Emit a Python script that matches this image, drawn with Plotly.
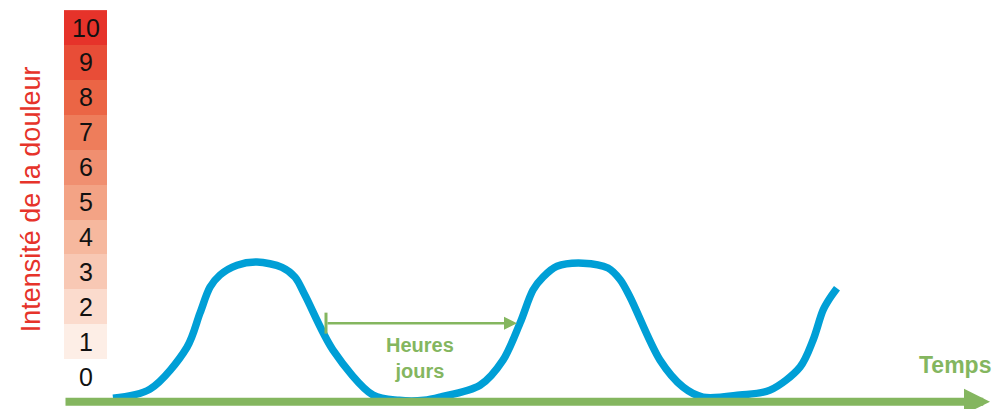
import plotly.graph_objects as go

# Pain scale
levels = [0, 1, 2, 3, 4, 5, 6, 7, 8, 9, 10]
level_labels = ["0", "1", "2", "3", "4", "5", "6", "7", "8", "9", "10"]
level_colors = ["#FFFFFF", "#FDEEE6", "#FBDBCD", "#F8C8B4", "#F6B89E", "#F3A385",
                "#F08F70", "#EE7D5B", "#EB6545", "#E84D37", "#E6332A"]

# Pain curve over time (arbitrary time units)
time = [4.9, 8.6, 12.3, 13.6, 14.6, 15.6, 17.3, 19.3, 21.8, 23.1, 24.1, 26.9, 30.9,
        33.5, 36.0,
        37.6, 41.6, 43.9, 45.6, 46.9, 47.9, 49.3, 51.9, 54.4, 55.6, 56.6, 59.6, 61.9, 63.9,
        67.6, 70.6, 73.6, 74.9, 75.9, 76.6, 77.3]
intensity = [-0.62, -0.36, 0.84, 1.82, 2.56, 2.91, 3.19, 3.28, 3.13, 2.85, 2.33, 0.76, -0.53,
             -0.68, -0.68,
             -0.59, -0.25, 0.47, 1.53, 2.48, 2.85, 3.16, 3.25, 3.11, 2.78, 2.28, 0.47, -0.30, -0.59,
             -0.53, -0.39, 0.27, 1.04, 1.90, 2.25, 2.53]

# Interval bracket ("Heures / jours")
interval_start = 26.2
interval_end = 45.3
interval_level = 1.53

# Time axis
time_axis_start = 0.0
time_axis_end = 92.6
time_axis_level = -0.72

GREEN = "#84B65F"
BLUE = "#009FD6"
RED = "#E6332A"
FONT = "Liberation Sans, Arial, Helvetica, sans-serif"

fig = go.Figure()

colorscale = [[lv / 10, c] for lv, c in zip(levels, level_colors)]
fig.add_trace(go.Heatmap(
    x=[0.0, 4.3],
    y=[lv - 0.5 for lv in levels] + [levels[-1] + 0.5],
    z=[[lv] for lv in levels],
    text=[[t] for t in level_labels],
    texttemplate="%{text}",
    textfont=dict(family=FONT, size=25, color="#111111"),
    colorscale=colorscale, zmin=0, zmax=10,
    showscale=False, hoverinfo="skip",
))

fig.add_trace(go.Scatter(
    x=time, y=intensity, mode="lines",
    line=dict(color=BLUE, width=7.5, shape="spline", smoothing=0.9),
    hoverinfo="skip", showlegend=False,
))

# start tick of the bracket
fig.add_trace(go.Scatter(
    x=[interval_start], y=[interval_level], mode="markers",
    marker=dict(symbol="line-ns-open", size=15, color=GREEN, line=dict(color=GREEN, width=3)),
    hoverinfo="skip", showlegend=False,
))

annotations = [
    dict(x=time_axis_end, y=time_axis_level, ax=time_axis_start, ay=time_axis_level,
         xref="x", yref="y", axref="x", ayref="y", text="", showarrow=True,
         arrowhead=2, arrowsize=0.65, arrowwidth=8, arrowcolor=GREEN),
    dict(x=interval_end, y=interval_level, ax=interval_start, ay=interval_level,
         xref="x", yref="y", axref="x", ayref="y", text="", showarrow=True,
         arrowhead=2, arrowsize=1.04, arrowwidth=2.5, arrowcolor=GREEN),
    dict(x=35.6, y=0.54, xref="x", yref="y", text="<b>Heures<br>jours</b>", showarrow=False,
         font=dict(family=FONT, size=20, color=GREEN)),
    dict(x=89.1, y=0.33, xref="x", yref="y", text="<b>Temps</b>", showarrow=False,
         font=dict(family=FONT, size=23, color=GREEN)),
    dict(x=-3.3, y=5.08, xref="x", yref="y", text="Intensité de la douleur", showarrow=False,
         textangle=-90, font=dict(family=FONT, size=27, color=RED)),
]

fig.update_layout(
    width=997, height=409,
    margin=dict(l=0, r=0, t=0, b=0),
    paper_bgcolor="white", plot_bgcolor="white",
    showlegend=False,
    annotations=annotations,
    xaxis=dict(range=[-6.4, 93.3], visible=False, fixedrange=True),
    yaxis=dict(range=[-0.93, 10.79], visible=False, fixedrange=True),
)

fig.write_html("out.html", config={"displayModeBar": False},
               post_script="document.body.style.margin='0';document.body.style.overflow='hidden';")
